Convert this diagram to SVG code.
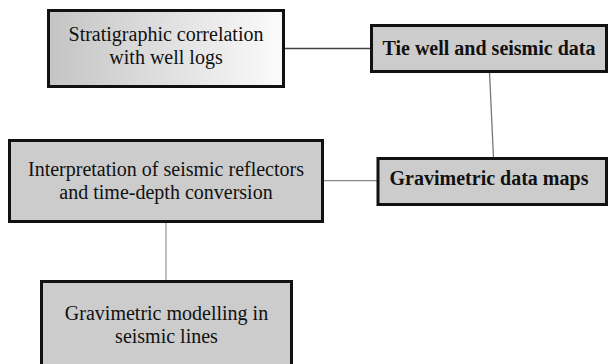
<svg xmlns="http://www.w3.org/2000/svg" width="610" height="364" viewBox="0 0 610 364">
<defs>
<linearGradient id="g1" x1="0" y1="0" x2="1" y2="0">
<stop offset="0" stop-color="#c4c4c4"/>
<stop offset="1" stop-color="#fbfbfb"/>
</linearGradient>
<style>
.box{stroke:#111;stroke-width:3;fill:#cccccc}
.t{font-family:"Liberation Serif","Times New Roman",serif;font-size:20px;fill:#111;text-anchor:middle}
.b{font-weight:bold}
.c{fill:none;stroke-width:1.3}
</style>
</defs>
<rect width="610" height="364" fill="#fff"/>
<g id="connectors">
<line class="c" x1="285" y1="48.5" x2="371" y2="48.5" stroke="#444"/>
<line class="c" x1="489.5" y1="72" x2="493.5" y2="158" stroke="#777"/>
<line class="c" x1="323" y1="180.7" x2="377" y2="180.7" stroke="#888"/>
<line class="c" x1="166" y1="222" x2="166" y2="281" stroke="#999"/>
</g>
<g id="n1">
<rect class="box" x="48.5" y="10.5" width="235" height="76" fill="url(#g1)" style="fill:url(#g1)"/>
<text class="t" x="166" y="40.5">Stratigraphic correlation</text>
<text class="t" x="166" y="63.5">with well logs</text>
</g>
<g id="n2">
<rect class="box" x="371.5" y="25.5" width="235" height="46"/>
<text class="t b" x="489" y="54.5">Tie well and seismic data</text>
</g>
<g id="n3">
<rect class="box" x="9.5" y="140.5" width="313" height="81"/>
<text class="t" x="166" y="176">Interpretation of seismic reflectors</text>
<text class="t" x="166" y="199">and time-depth conversion</text>
</g>
<g id="n4">
<rect class="box" x="378" y="158.5" width="228.5" height="46"/>
<text class="t b" x="489" y="184.5">Gravimetric data maps</text>
</g>
<g id="n5">
<rect class="box" x="41.5" y="281.5" width="250" height="85"/>
<text class="t" x="166.5" y="319.5">Gravimetric modelling in</text>
<text class="t" x="166.5" y="342.5">seismic lines</text>
</g>
</svg>
